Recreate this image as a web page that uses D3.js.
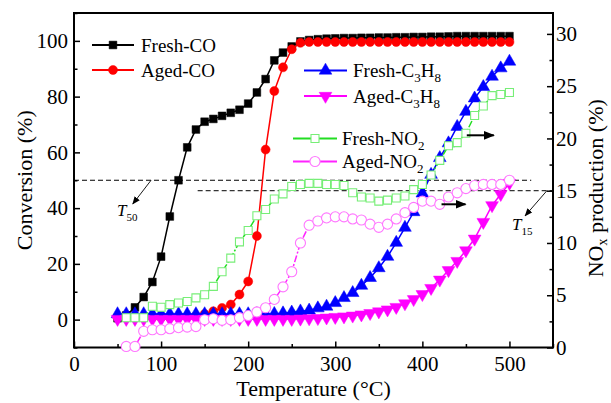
<!DOCTYPE html>
<html><head><meta charset="utf-8">
<script src="https://cdn.jsdelivr.net/npm/d3@7"></script>
<style>
body{margin:0;background:#fff;}
svg{display:block;font-family:"Liberation Serif","Times New Roman",serif;}
</style></head>
<body><svg id="c" width="611" height="403"></svg>
<script>
// ---- data ----
const tempsAll = [50,60,70,80,90,100,110,120,130,140,150,160,170,180,190,200,210,220,230,240,250,260,270,280,290,300,310,320,330,340,350,360,370,380,390,400,410,420,430,440,450,460,470,480,490,500];
const tempsNO2 = [60,70,80,90,100,110,120,130,140,150,160,170,180,190,200,210,220,230,240,250,260,270,280,290,300,310,320,330,340,350,360,370,380,390,400,410,420,430,440,450,460,470,480,490,500];
const freshCO = [0.5,1.5,4.4,8.1,13.5,22.6,37,50,61.8,68.2,71,72,73.1,74.2,75.3,77.5,81.5,86.3,93,95.8,98,99.8,100.3,100.6,100.8,100.9,101,101,101.1,101.1,101.2,101.2,101.3,101.3,101.4,101.4,101.5,101.5,101.6,101.7,101.7,101.7,101.7,101.7,101.7,101.7];
const agedCO = [0.8,0.8,0.8,0.8,0.8,0.8,0.8,0.9,1.0,1.3,2.0,3.0,4.2,5.4,9.0,13.7,30,61,82,90.5,97,99.3,99.6,99.6,99.6,99.6,99.6,99.6,99.6,99.6,99.6,99.6,99.6,99.6,99.6,99.6,99.6,99.6,99.6,99.6,99.6,99.6,99.6,99.6,99.6,99.6];
const freshC3H8 = [2,2,2,2,2,2,2,2,2,2,2,2,2,2,2,2,2,2,2.1,2.3,2.6,3.0,3.3,4.1,4.7,6,7.8,9.6,12.2,15,18.5,22.6,27.6,33,38.6,45.3,52,58,63.3,69.2,74.6,79.4,83.5,87.2,90.2,92.6];
const agedC3H8 = [0.2,0.2,0.2,0.2,0.2,0.2,0.2,0.2,0.2,0.2,0.2,0.2,0.2,0.2,0.2,0.2,0.2,0.2,0.2,0.2,0.2,0.3,0.4,0.5,0.7,0.9,1.1,1.4,1.8,2.3,2.9,3.6,4.5,5.8,7.3,9.1,11.3,14.3,17.7,21,24.8,29,35,41,45,49];
const freshNO2 = [2.85,2.85,2.85,3.95,3.85,4.1,4.25,4.4,4.75,5.05,5.85,7.25,8.55,10.1,11.2,12.6,13.2,14.2,14.7,15.4,15.6,15.7,15.7,15.6,15.6,15.5,14.8,14.4,14.3,14.0,14.1,14.3,14.5,15.1,15.6,16.5,17.9,19.3,19.6,20.5,22.2,23.1,24.1,24.2,24.4];
const agedNO2 = [0.1,0.1,1.55,1.7,1.7,1.8,1.9,1.95,2.0,2.65,2.75,2.6,2.65,2.85,3.05,3.4,3.8,4.6,5.8,7.25,10,11.7,12.1,12.4,12.5,12.5,12.3,12.2,11.8,11.5,11.8,12.3,12.9,13.4,14.0,14.0,13.7,14.4,14.8,15.2,15.5,15.6,15.6,15.6,16.0];
const xTicks = [0,100,200,300,400,500];
const yLTicks = [0,20,40,60,80,100];
const yRTicks = [0,5,10,15,20,25,30];

// ---- scales ----
const svg = d3.select("#c");
const L=74,R=553,T=13,B=347.5;
const x = d3.scaleLinear([0,550],[L,R]);
const yL = d3.scaleLinear([-10,110],[B,T]);
const yR = d3.scaleLinear([0,32],[B,T]);

// ---- axes ----
function styleAxis(g){g.select(".domain").remove();g.selectAll("line").attr("stroke","#000").attr("stroke-width",1.5);g.selectAll("text").attr("font-size",21).attr("fill","#000").attr("font-family","Liberation Serif");}
svg.append("g").attr("transform",`translate(0,${B})`).call(d3.axisBottom(x).tickValues(xTicks).tickSize(-6).tickPadding(9).tickFormat(d3.format("d"))).call(styleAxis);
svg.append("g").attr("transform",`translate(0,${B})`).call(d3.axisBottom(x).tickValues([50,150,250,350,450,550]).tickSize(-3.5).tickFormat("")).call(styleAxis);
svg.append("g").attr("transform",`translate(${L},0)`).call(d3.axisLeft(yL).tickValues(yLTicks).tickSize(-6).tickPadding(6)).call(styleAxis);
svg.append("g").attr("transform",`translate(${L},0)`).call(d3.axisLeft(yL).tickValues([-10,10,30,50,70,90,110]).tickSize(-3.5).tickFormat("")).call(styleAxis);
svg.append("g").attr("transform",`translate(${R},0)`).call(d3.axisRight(yR).tickValues(yRTicks).tickSize(-6).tickPadding(3)).call(styleAxis);
svg.append("g").attr("transform",`translate(${R},0)`).call(d3.axisRight(yR).tickValues([2.5,7.5,12.5,17.5,22.5,27.5]).tickSize(-3.5).tickFormat("")).call(styleAxis);
svg.append("rect").attr("x",L).attr("y",T).attr("width",R-L).attr("height",B-T).attr("fill","none").attr("stroke","#000").attr("stroke-width",2);

// titles
svg.append("text").attr("x",(L+R)/2).attr("y",396).attr("text-anchor","middle").attr("font-size",22).text("Temperature (°C)");
svg.append("text").attr("transform",`translate(32,${(T+B)/2}) rotate(-90)`).attr("text-anchor","middle").attr("font-size",22).text("Conversion (%)");
const rt = svg.append("text").attr("transform",`translate(603,${(T+B)/2+8}) rotate(-90)`).attr("text-anchor","middle").attr("font-size",22);
rt.append("tspan").text("NO");
rt.append("tspan").attr("font-size",14).attr("dy",4).text("x");
rt.append("tspan").attr("dy",-4).text(" production (%)");

// dashed reference lines
svg.append("line").attr("x1",x(0)).attr("x2",x(525)).attr("y1",yL(50)).attr("y2",yL(50)).attr("stroke","#000").attr("stroke-width",1).attr("stroke-dasharray","5,3");
svg.append("line").attr("x1",x(142)).attr("x2",x(550)).attr("y1",yR(15)).attr("y2",yR(15)).attr("stroke","#000").attr("stroke-width",1).attr("stroke-dasharray","5,3");

// ---- series ----
const sym = {
  square: d3.symbol().type(d3.symbolSquare).size(60),
  circle: d3.symbol().type(d3.symbolCircle).size(64),
  tri: d3.symbol().type(d3.symbolTriangle).size(70),
  osquare: d3.symbol().type(d3.symbolSquare).size(64),
  ocircle: d3.symbol().type(d3.symbolCircle).size(80)
};
const series = [
  {name:"Fresh-CO", t:tempsAll, v:freshCO, y:yL, line:"#000", mk:"square", fill:"#000", stroke:"#000"},
  {name:"Aged-CO", t:tempsAll, v:agedCO, y:yL, line:"#ff0000", mk:"circle", fill:"#ff0000", stroke:"#ff0000"},
  {name:"Fresh-C3H8", t:tempsAll, v:freshC3H8, y:yL, line:"#0000ff", mk:"tri", fill:"#0000ff", stroke:"#0000ff"},
  {name:"Aged-C3H8", t:tempsAll, v:agedC3H8, y:yL, line:"#ff00ff", mk:"tri", rot:180, fill:"#ff00ff", stroke:"#ff00ff"},
  {name:"Fresh-NO2", t:tempsNO2, v:freshNO2, y:yR, line:"#22dd22", mk:"osquare", fill:"#fff", stroke:"#77ee77", dash:"7,2,2,2"},
  {name:"Aged-NO2", t:tempsNO2, v:agedNO2, y:yR, line:"#ff22ff", mk:"ocircle", fill:"#fff", stroke:"#ff77ff", dash:"7,2,2,2"}
];
series.forEach(s=>{
  const pts = s.t.map((t,i)=>[t,s.v[i]]);
  const g = svg.append("g");
  g.append("path").attr("d",d3.line().x(d=>x(d[0])).y(d=>s.y(d[1]))(pts)).attr("fill","none").attr("stroke",s.line).attr("stroke-width",1.5).attr("stroke-dasharray",s.dash||null);
  g.selectAll("path.m").data(pts).join("path").attr("class","m").attr("d",sym[s.mk])
    .attr("transform",d=>`translate(${x(d[0])},${s.y(d[1])})${s.rot?" rotate(180)":""}`)
    .attr("fill",s.fill).attr("stroke",s.stroke).attr("stroke-width",s.fill==="#fff"?1.1:0.5);
});

// ---- legends ----
function legendItem(s,lx1,lx2,ly,tx,label){
  const g=svg.append("g");
  g.append("line").attr("x1",lx1).attr("x2",lx2).attr("y1",ly).attr("y2",ly).attr("stroke",s.line).attr("stroke-width",2);
  g.append("path").attr("d",sym[s.mk]).attr("transform",`translate(${(lx1+lx2)/2},${ly})${s.rot?" rotate(180)":""}`).attr("fill",s.fill).attr("stroke",s.stroke).attr("stroke-width",s.fill==="#fff"?1.1:0.5);
  const t=g.append("text").attr("x",tx).attr("y",ly+6.5).attr("font-size",19);
  let cur=0;
  label.forEach(p=>{
    const target = p.sub?5:0;
    const sp=t.append("tspan").text(p.s).attr("dy",target-cur);
    if(p.sub) sp.attr("font-size",13);
    cur=target;
  });
}
legendItem(series[0],92,134,45,141,[{s:"Fresh-CO"}]);
legendItem(series[1],92,134,70,141,[{s:"Aged-CO"}]);
legendItem(series[2],304,347,70.5,353,[{s:"Fresh-C"},{s:"3",sub:1},{s:"H"},{s:"8",sub:1}]);
legendItem(series[3],304,347,96,353,[{s:"Aged-C"},{s:"3",sub:1},{s:"H"},{s:"8",sub:1}]);
legendItem(series[4],293,337,138.5,342,[{s:"Fresh-NO"},{s:"2",sub:1}]);
legendItem(series[5],293,337,161.5,342,[{s:"Aged-NO"},{s:"2",sub:1}]);

// ---- annotations ----
const defs=svg.append("defs");
defs.append("marker").attr("id","ah").attr("viewBox","0 0 10 10").attr("refX",9).attr("refY",5).attr("markerWidth",8).attr("markerHeight",8).attr("orient","auto-start-reverse").attr("markerUnits","userSpaceOnUse")
  .append("path").attr("d","M0,1 L10,5 L0,9 z").attr("fill","#000");
defs.append("marker").attr("id","ahb").attr("viewBox","0 0 10 10").attr("refX",9).attr("refY",5).attr("markerWidth",11).attr("markerHeight",11).attr("orient","auto").attr("markerUnits","userSpaceOnUse")
  .append("path").attr("d","M0,1 L10,5 L0,9 z").attr("fill","#000");
// T50
svg.append("line").attr("x1",x(88.5)).attr("y1",yL(50)).attr("x2",x(67.5)).attr("y2",yL(41.5)).attr("stroke","#000").attr("stroke-width",0.9).attr("marker-end","url(#ah)");
const t50=svg.append("text").attr("x",x(49.5)).attr("y",yL(37.3)).attr("font-size",17).attr("font-style","italic");
t50.append("tspan").text("T"); t50.append("tspan").attr("font-size",11).attr("font-style","normal").attr("dy",5).text("50");
// T15
svg.append("line").attr("x1",x(543)).attr("y1",yR(15)).attr("x2",x(518)).attr("y2",yR(12.6)).attr("stroke","#000").attr("stroke-width",0.9).attr("marker-end","url(#ah)");
const t15=svg.append("text").attr("x",x(503)).attr("y",yR(11.2)).attr("font-size",17).attr("font-style","italic");
t15.append("tspan").text("T"); t15.append("tspan").attr("font-size",11).attr("font-style","normal").attr("dy",5).text("15");
// bold right-pointing arrows (axis indicators)
svg.append("line").attr("x1",x(451)).attr("y1",yR(20.3)).attr("x2",x(482)).attr("y2",yR(20.3)).attr("stroke","#000").attr("stroke-width",2).attr("marker-end","url(#ahb)");
svg.append("line").attr("x1",x(422)).attr("y1",yR(13.7)).attr("x2",x(449.5)).attr("y2",yR(13.7)).attr("stroke","#000").attr("stroke-width",2).attr("marker-end","url(#ahb)");
</script></body></html>
